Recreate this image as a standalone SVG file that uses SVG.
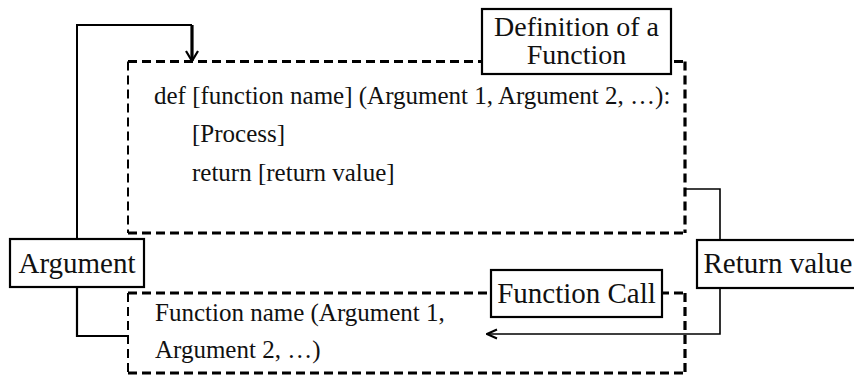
<svg xmlns="http://www.w3.org/2000/svg" width="854" height="377" viewBox="0 0 854 377">
<style>
  .lbl { font-family: "Liberation Serif", "Times New Roman", serif; font-size: 29px; fill: #111; text-anchor: middle; }
  .lbl2 { font-size: 28px; }
  .code { font-family: "Liberation Serif", "Times New Roman", serif; font-size: 25px; fill: #111; }
  .box { fill: #fff; stroke: #000; stroke-width: 2.2; }
  .dash { fill: none; stroke: #000; stroke-dasharray: 9 5; }
  .thin { stroke-width: 2; }
  .thick { stroke-width: 3.2; }
  .conn { fill: none; stroke: #000; }
</style>
<defs>
  <marker id="arrowBig" viewBox="0 0 12 14" refX="11" refY="7" markerWidth="12" markerHeight="14" orient="auto" markerUnits="userSpaceOnUse">
    <path d="M1,1 L11,7 L1,13" fill="none" stroke="#000" stroke-width="2.2"/>
  </marker>
  <marker id="arrowSmall" viewBox="0 0 12 12" refX="11" refY="6" markerWidth="12" markerHeight="12" orient="auto" markerUnits="userSpaceOnUse">
    <path d="M1,1.5 L11,6 L1,10.5" fill="none" stroke="#000" stroke-width="2"/>
  </marker>
</defs>

<g id="definition-frame">
  <line class="dash thick" x1="128" y1="61.5" x2="685" y2="61.5"/>
  <line class="dash thin" x1="128" y1="61.5" x2="128" y2="233"/>
  <line class="dash thick" x1="685" y1="61.5" x2="685" y2="233"/>
  <line class="dash thick" x1="128" y1="233" x2="685" y2="233"/>
  <text class="code" x="154" y="104">def [function name] (Argument 1, Argument 2, …):</text>
  <text class="code" x="192" y="142">[Process]</text>
  <text class="code" x="192" y="181">return [return value]</text>
</g>

<g id="call-frame">
  <line class="dash thick" x1="128" y1="293" x2="685" y2="293"/>
  <line class="dash thin" x1="128" y1="293" x2="128" y2="373"/>
  <line class="dash thick" x1="685" y1="293" x2="685" y2="373"/>
  <line class="dash thick" x1="128" y1="373" x2="685" y2="373"/>
  <text class="code" x="155" y="321">Function name (Argument 1,</text>
  <text class="code" x="155" y="358">Argument 2, …)</text>
</g>

<g id="connectors">
  <path class="conn" stroke-width="2" d="M77,239 V25 H192"/>
  <line class="conn" stroke-width="3.2" x1="192" y1="25" x2="192" y2="61" marker-end="url(#arrowBig)"/>
  <path class="conn" stroke-width="2.2" d="M77,287 V336 H128"/>
  <path class="conn" stroke-width="1.6" d="M685,189 H720 V240"/>
  <path class="conn" stroke-width="1.6" d="M720,288 V334 H487" marker-end="url(#arrowSmall)"/>
</g>

<g id="label-definition">
  <rect class="box" x="482" y="9" width="189" height="65"/>
  <text class="lbl lbl2" x="576.5" y="36">Definition of a</text>
  <text class="lbl lbl2" x="576.5" y="64">Function</text>
</g>

<g id="label-argument">
  <rect class="box" x="10" y="239" width="134" height="48"/>
  <text class="lbl" x="77" y="273">Argument</text>
</g>

<g id="label-function-call">
  <rect class="box" x="491" y="270" width="171" height="47"/>
  <text class="lbl" x="576.5" y="303">Function Call</text>
</g>

<g id="label-return-value">
  <rect class="box" x="697" y="240" width="170" height="48"/>
  <text class="lbl" x="778" y="273">Return value</text>
</g>
</svg>
